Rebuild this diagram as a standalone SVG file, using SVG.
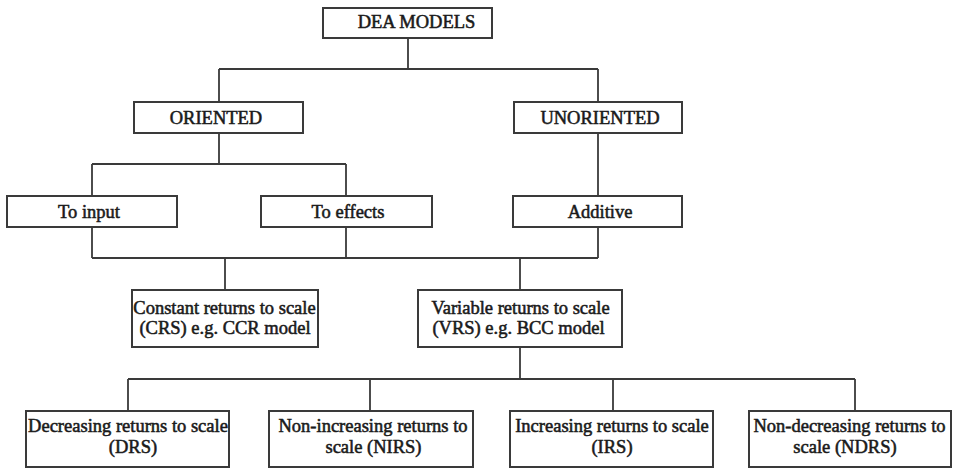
<svg xmlns="http://www.w3.org/2000/svg" width="954" height="468" viewBox="0 0 954 468">
<style>
.box{fill:#fff;stroke:#3a3a3a;stroke-width:2}
.ln{fill:none;stroke:#3a3a3a;stroke-width:1.8}
text{font-family:"Liberation Serif","Times New Roman",serif;font-size:18.5px;fill:#1a1a1a;stroke:#1a1a1a;stroke-width:0.55;text-anchor:middle}
</style>
<rect width="954" height="468" fill="#fff"/>
<g id="connectors">
<path class="ln" d="M408 38V69M219 69H598M219 69V102M598 69V102"/>
<path class="ln" d="M219 133V164M92 164H346M92 164V196M346 164V196"/>
<path class="ln" d="M598 133V196"/>
<path class="ln" d="M92 227V258M346 227V258M598 227V258M92 258H598"/>
<path class="ln" d="M225 258V290M520 258V290"/>
<path class="ln" d="M520 347V379M128 379H855M128 379V411M370 379V411M613 379V411M855 379V411"/>
</g>
<g id="dea"><rect class="box" x="323" y="8" width="169" height="30"/><text x="416.5" y="28">DEA MODELS</text></g>
<g id="oriented"><rect class="box" x="134" y="102" width="169" height="31"/><text x="216" y="123.5">ORIENTED</text></g>
<g id="unoriented"><rect class="box" x="514" y="102" width="168" height="31"/><text x="600" y="123.5">UNORIENTED</text></g>
<g id="to-input"><rect class="box" x="7" y="196" width="170" height="31"/><text x="89" y="217.5">To input</text></g>
<g id="to-effects"><rect class="box" x="261" y="196" width="171" height="31"/><text x="348" y="217.5">To effects</text></g>
<g id="additive"><rect class="box" x="513" y="196" width="169" height="31"/><text x="600" y="217.5">Additive</text></g>
<g id="crs"><rect class="box" x="132" y="290" width="186" height="57"/><text x="224.5" y="313.5">Constant returns to scale</text><text x="225" y="334">(CRS) e.g. CCR model</text></g>
<g id="vrs"><rect class="box" x="418" y="290" width="204" height="57"/><text x="520.5" y="313.5">Variable returns to scale</text><text x="518.5" y="334">(VRS) e.g. BCC model</text></g>
<g id="drs"><rect class="box" x="26" y="411" width="203" height="56"/><text x="128" y="432">Decreasing returns to scale</text><text x="133" y="453">(DRS)</text></g>
<g id="nirs"><rect class="box" x="269" y="411" width="204" height="56"/><text x="373" y="432">Non-increasing returns to</text><text x="373.5" y="453">scale (NIRS)</text></g>
<g id="irs"><rect class="box" x="510" y="411" width="203" height="56"/><text x="612" y="432">Increasing returns to scale</text><text x="612" y="453">(IRS)</text></g>
<g id="ndrs"><rect class="box" x="749" y="411" width="202" height="56"/><text x="849.5" y="432">Non-decreasing returns to</text><text x="845" y="453">scale (NDRS)</text></g>
</svg>
